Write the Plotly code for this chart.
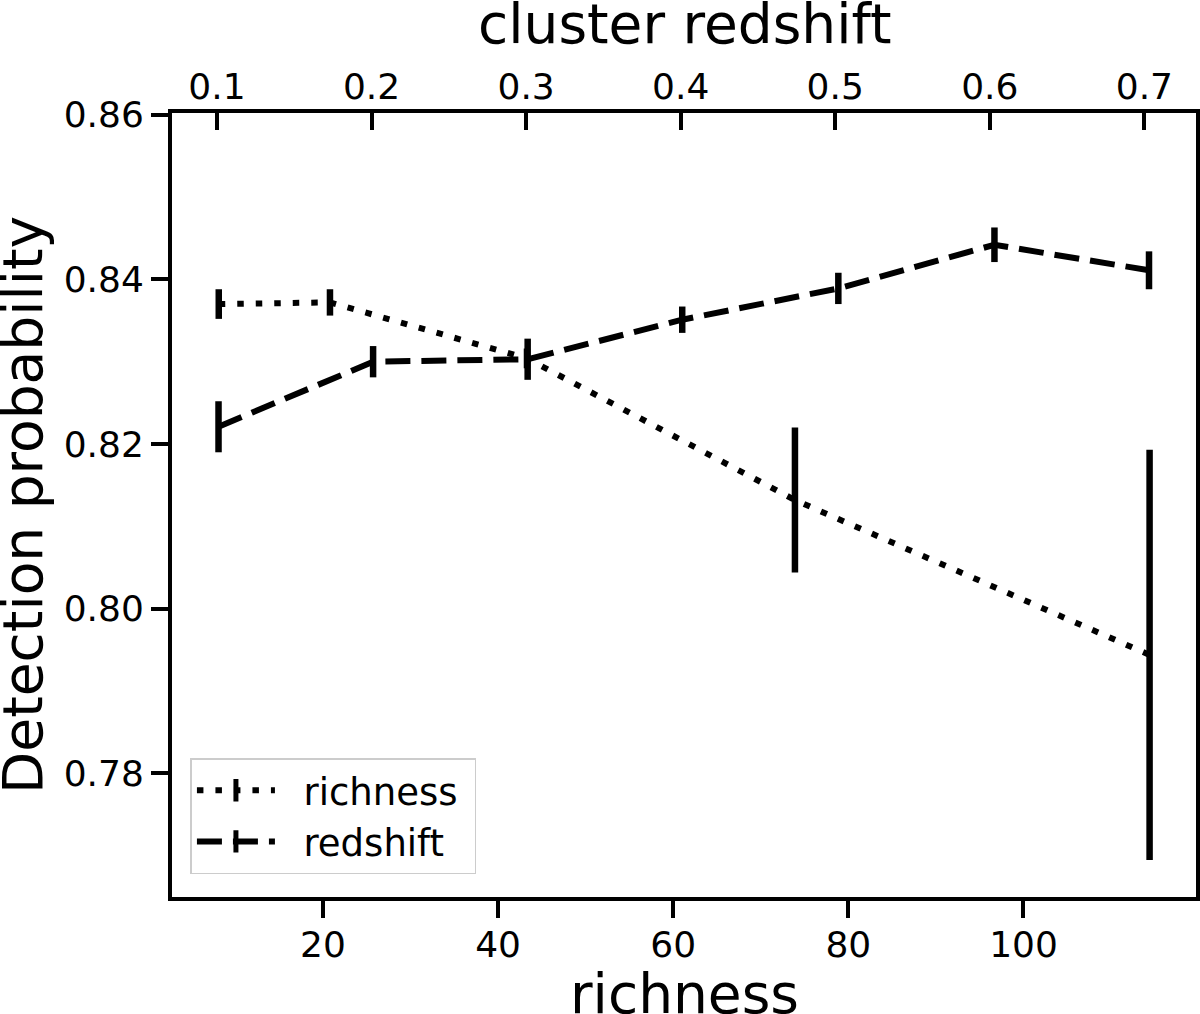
import plotly.graph_objects as go

# ---- data ----
richness_x = [8.1, 20.8, 43.3, 73.9, 114.4]
richness_p = [0.8370, 0.8372, 0.8304, 0.8132, 0.7944]
richness_err = [0.0018, 0.0016, 0.0012, 0.0088, 0.0249]

redshift_x = [0.101, 0.201, 0.301, 0.401, 0.502, 0.603, 0.703]
redshift_p = [0.8221, 0.8300, 0.8303, 0.8351, 0.8389, 0.8442, 0.8411]
redshift_err = [0.0031, 0.0019, 0.0025, 0.0016, 0.0019, 0.0021, 0.0023]

richness_ticks = [20, 40, 60, 80, 100]
redshift_ticks = [0.1, 0.2, 0.3, 0.4, 0.5, 0.6, 0.7]
redshift_ticktext = ["0.1", "0.2", "0.3", "0.4", "0.5", "0.6", "0.7"]
prob_ticks = [0.78, 0.80, 0.82, 0.84, 0.86]
prob_ticktext = ["0.78", "0.80", "0.82", "0.84", "0.86"]

x_title = "richness"
x2_title = "cluster redshift"
y_title = "Detection probability"

FONT = "DejaVu Sans"
LW = 6
EW = 6.5
DOT = "6.5px,12px"
DASH = "25px,11px"
NB = "\u00a0\u00a0"

fig = go.Figure()

fig.add_trace(go.Scatter(
    x=richness_x, y=richness_p, mode="lines", xaxis="x", yaxis="y",
    line=dict(color="black", width=LW, dash=DOT),
    error_y=dict(type="data", array=richness_err, visible=True,
                 color="black", thickness=EW, width=0),
    showlegend=False,
))
fig.add_trace(go.Scatter(
    x=redshift_x, y=redshift_p, mode="lines", xaxis="x2", yaxis="y",
    line=dict(color="black", width=LW, dash=DASH),
    error_y=dict(type="data", array=redshift_err, visible=True,
                 color="black", thickness=EW, width=0),
    showlegend=False,
))

# legend proxies
fig.add_trace(go.Scatter(
    x=[None], y=[None], mode="lines+markers", name=NB + "richness\u00a0",
    line=dict(color="black", width=LW, dash=DOT),
    marker=dict(symbol="line-ns-open", size=30, color="black",
                line=dict(color="black", width=6)),
))
fig.add_trace(go.Scatter(
    x=[None], y=[None], mode="lines+markers", name=NB + "redshift\u00a0",
    line=dict(color="black", width=LW, dash=DASH),
    marker=dict(symbol="line-ns-open", size=30, color="black",
                line=dict(color="black", width=6)),
))

axis_common = dict(
    showgrid=False, zeroline=False, showline=True, automargin=False,
    linecolor="black", linewidth=4,
    tickcolor="black", tickwidth=4, ticklen=17,
    tickfont=dict(family=FONT, size=36, color="black"),
)
TITLE_FONT = dict(family=FONT, size=55, color="black")

fig.update_layout(
    width=1200, height=1014, autosize=False,
    margin=dict(l=172, r=4, t=113, b=117),
    paper_bgcolor="white", plot_bgcolor="white",
    font=dict(family=FONT, color="black"),
    xaxis=dict(
        range=[2.76, 119.7], tickmode="array", tickvals=richness_ticks,
        ticks="outside", ticklabelstandoff=-4,
        **axis_common,
    ),
    xaxis2=dict(
        range=[0.0709, 0.7334], overlaying="x", side="top", anchor="y",
        tickmode="array", tickvals=redshift_ticks, ticktext=redshift_ticktext,
        ticks="inside", ticklabelstandoff=-4,
        **axis_common,
    ),
    yaxis=dict(
        range=[0.7650, 0.8602], tickmode="array", tickvals=prob_ticks,
        ticktext=prob_ticktext, ticks="outside", mirror=True,
        ticklabelstandoff=0,
        **axis_common,
    ),
    legend=dict(
        x=0.018, y=0.177, xanchor="left", yanchor="top",
        bgcolor="white", bordercolor="#cccccc", borderwidth=1.5,
        font=dict(family=FONT, size=37, color="black"),
        itemwidth=78,
    ),
    annotations=[
        dict(text=x_title, xref="paper", yref="paper", x=0.5, y=0,
             xanchor="center", yanchor="middle", yshift=-97,
             showarrow=False, font=TITLE_FONT),
        dict(text=x2_title, xref="paper", yref="paper", x=0.5, y=1,
             xanchor="center", yanchor="middle", yshift=89,
             showarrow=False, font=TITLE_FONT),
        dict(text=y_title, xref="paper", yref="paper", x=0, y=0.5,
             xanchor="center", yanchor="middle", xshift=-149,
             textangle=-90, showarrow=False, font=TITLE_FONT),
    ],
)

fig.write_html("out.html", config={"displayModeBar": False},
               post_script="document.body.style.margin='0';")
